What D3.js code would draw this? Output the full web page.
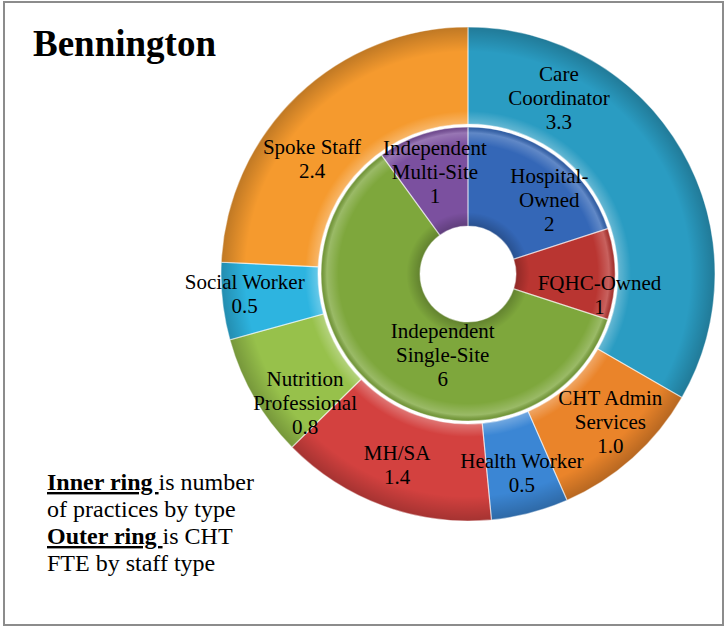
<!DOCTYPE html>
<html>
<head>
<meta charset="utf-8">
<script src="https://cdn.jsdelivr.net/npm/d3@7"></script>
<style>
  body { margin: 0; background: #fff; }
  svg { display: block; }
</style>
</head>
<body>
<svg></svg>
<script>
// outer ring: CHT FTE by staff type
const staffTypes = ["Care\nCoordinator", "CHT Admin\nServices", "Health Worker", "MH/SA",
                    "Nutrition\nProfessional", "Social Worker", "Spoke Staff"];
const staffFTE = [3.3, 1.0, 0.5, 1.4, 0.8, 0.5, 2.4];
const staffColors = ["#2a9cc2", "#ea842a", "#3b86d4", "#d3413f", "#97c14b", "#2db4e0", "#f59a2e"];

// inner ring: number of practices by type
const practiceTypes = ["Hospital-\nOwned", "FQHC-Owned", "Independent\nSingle-Site", "Independent\nMulti-Site"];
const practiceCounts = [2, 1, 6, 1];
const practiceColors = ["#3467b7", "#b93531", "#7ea73c", "#7b509f"];

// label nudges from the arc centroid (dx, dy), like the hand-moved labels in the original
const staffNudge = [[-81, -77], [10, 0], [4, 7], [-3, 4], [9, 30], [-26, -2], [-19, 29]];
const practiceNudge = [[24, 5], [34, 21], [32, 2], [-3, -9]];

const width = 724, height = 627;
const cx = 468, cy = 274;
const font = "'Liberation Serif', 'Times New Roman', serif";

const svg = d3.select("svg")
    .attr("width", width)
    .attr("height", height);

const defs = svg.append("defs");

// soft bevel look: shading bands along the ring edges
function shade(id, r, stops) {
  const g = defs.append("radialGradient").attr("id", id)
      .attr("gradientUnits", "userSpaceOnUse")
      .attr("cx", 0).attr("cy", 0).attr("r", r);
  stops.forEach(([o, c, a]) => {
    g.append("stop").attr("offset", o).attr("stop-color", c).attr("stop-opacity", a);
  });
}
shade("shadeOuter", 247, [
  [0.607, "#ffffff", 0.28], [0.66, "#ffffff", 0.0],
  [0.90, "#000000", 0.0], [1.0, "#000000", 0.22]
]);
shade("shadeInner", 147, [
  [0.327, "#000000", 0.22], [0.42, "#000000", 0.0],
  [0.88, "#ffffff", 0.0], [0.96, "#ffffff", 0.22], [1.0, "#000000", 0.12]
]);

// frame
svg.append("rect")
    .attr("x", 4).attr("y", 2)
    .attr("width", 719).attr("height", 623)
    .attr("fill", "none")
    .attr("stroke", "#8c8c8c")
    .attr("stroke-width", 2);

svg.append("text")
    .attr("x", 33).attr("y", 56)
    .attr("font-family", font)
    .attr("font-weight", "bold")
    .attr("font-size", 37)
    .text("Bennington");

const pie = d3.pie().sort(null).value(d => d);

const outerArc = d3.arc().innerRadius(150).outerRadius(247);
const innerArc = d3.arc().innerRadius(48).outerRadius(147);

const chart = svg.append("g").attr("transform", `translate(${cx},${cy})`);

function ring(values, arc, colors, shadeId) {
  const g = chart.append("g");
  const arcs = pie(values);
  g.selectAll("path.slice")
    .data(arcs)
    .join("path")
      .attr("class", "slice")
      .attr("d", arc)
      .attr("fill", (d, i) => colors[i]);
  g.selectAll("path.shade")
    .data(arcs)
    .join("path")
      .attr("class", "shade")
      .attr("d", arc)
      .attr("fill", `url(#${shadeId})`)
      .attr("stroke", "#ffffff")
      .attr("stroke-opacity", 0.45)
      .attr("stroke-width", 1.2);
}

function labels(values, names, arc, nudge, digits) {
  chart.append("g")
    .selectAll("text")
    .data(pie(values))
    .join("text")
      .attr("font-family", font)
      .attr("font-size", 21)
      .attr("text-anchor", "middle")
      .each(function(d, i) {
        const [x, y] = arc.centroid(d);
        const lines = names[i].split("\n").concat(d.data.toFixed(digits));
        const lh = 24;
        const x0 = x + nudge[i][0];
        const y0 = y + nudge[i][1] - (lines.length - 1) * lh / 2 + 7;
        const t = d3.select(this);
        lines.forEach((s, k) => {
          t.append("tspan").attr("x", x0).attr("y", y0 + k * lh).text(s);
        });
      });
}

ring(staffFTE, outerArc, staffColors, "shadeOuter");
ring(practiceCounts, innerArc, practiceColors, "shadeInner");
labels(staffFTE, staffTypes, outerArc, staffNudge, 1);
labels(practiceCounts, practiceTypes, innerArc, practiceNudge, 0);

// note
const note = svg.append("g")
    .attr("font-family", font)
    .attr("font-size", 24);
const noteLines = [
  [{t: "Inner ring ", b: true}, {t: "is number"}],
  [{t: "of practices by type"}],
  [{t: "Outer ring ", b: true}, {t: "is CHT"}],
  [{t: "FTE by staff type"}]
];
noteLines.forEach((parts, k) => {
  const t = note.append("text").attr("x", 47).attr("y", 490 + k * 27);
  parts.forEach(p => {
    t.append("tspan")
      .attr("font-weight", p.b ? "bold" : null)
      .attr("text-decoration", p.b ? "underline" : null)
      .text(p.t);
  });
});
</script>
</body>
</html>
